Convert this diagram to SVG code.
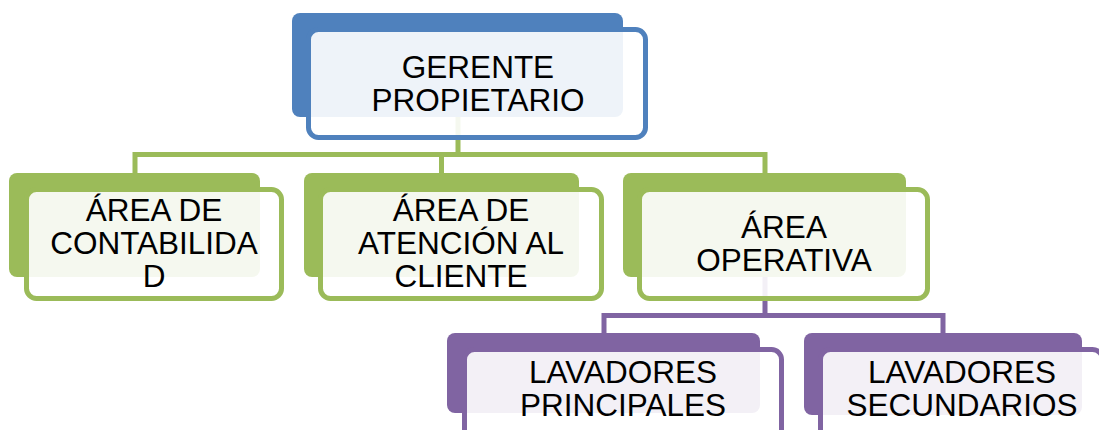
<svg xmlns="http://www.w3.org/2000/svg" width="1099" height="430" viewBox="0 0 1099 430">
<style>
.t{font-family:"Liberation Sans",Arial,sans-serif;font-size:31.5px;fill:#000;text-anchor:middle}
.front{fill:#fff;fill-opacity:0.9;stroke-width:5}
.c{fill:none;stroke-width:5;stroke-linejoin:miter}
.blue .back{fill:#4F81BD}.blue .front{stroke:#4F81BD}
.green .back{fill:#9BBB59}.green .front{stroke:#9BBB59}
.purple .back{fill:#8064A2}.purple .front{stroke:#8064A2}
</style>
<rect width="1099" height="430" fill="#fff"/>
<g id="connectors">
<path class="c" stroke="#9BBB59" d="M458 117V154.5H135V173M458 154.5H765V173M441.5 154.5V173"/>
<path class="c" stroke="#8064A2" d="M765 277V315.5H604V333M765 315.5H943V333"/>
</g>
<g id="gerente" class="blue">
<rect class="back" x="292" y="13" width="331" height="104" rx="8"/>
<rect class="front" x="308.5" y="29.5" width="337" height="108" rx="10"/>
<text class="t" x="478" y="78">GERENTE</text>
<text class="t" x="478" y="111">PROPIETARIO</text>
</g>
<g id="contabilidad" class="green">
<rect class="back" x="9" y="173" width="251" height="104" rx="8"/>
<rect class="front" x="26.5" y="189.5" width="255" height="109" rx="10"/>
<text class="t" x="154" y="221">ÁREA DE</text>
<text class="t" x="154" y="254">CONTABILIDA</text>
<text class="t" x="154" y="287">D</text>
</g>
<g id="atencion" class="green">
<rect class="back" x="304" y="173" width="275" height="104" rx="8"/>
<rect class="front" x="320.5" y="189.5" width="281" height="109" rx="10"/>
<text class="t" x="461" y="221">ÁREA DE</text>
<text class="t" x="461" y="254">ATENCIÓN AL</text>
<text class="t" x="461" y="287">CLIENTE</text>
</g>
<g id="operativa" class="green">
<rect class="back" x="623" y="173" width="283" height="104" rx="8"/>
<rect class="front" x="639.5" y="189.5" width="288" height="109" rx="10"/>
<text class="t" x="784" y="238">ÁREA</text>
<text class="t" x="784" y="271">OPERATIVA</text>
</g>
<g id="principales" class="purple">
<rect class="back" x="447" y="333" width="313" height="80" rx="8"/>
<rect class="front" x="464.5" y="349.5" width="317" height="108" rx="10"/>
<text class="t" x="623" y="383">LAVADORES</text>
<text class="t" x="623" y="416">PRINCIPALES</text>
</g>
<g id="secundarios" class="purple">
<rect class="back" x="804" y="333" width="278" height="82" rx="8"/>
<rect class="front" x="820.5" y="349.5" width="282" height="108" rx="10"/>
<text class="t" x="962" y="383">LAVADORES</text>
<text class="t" x="962" y="416">SECUNDARIOS</text>
</g>
</svg>
